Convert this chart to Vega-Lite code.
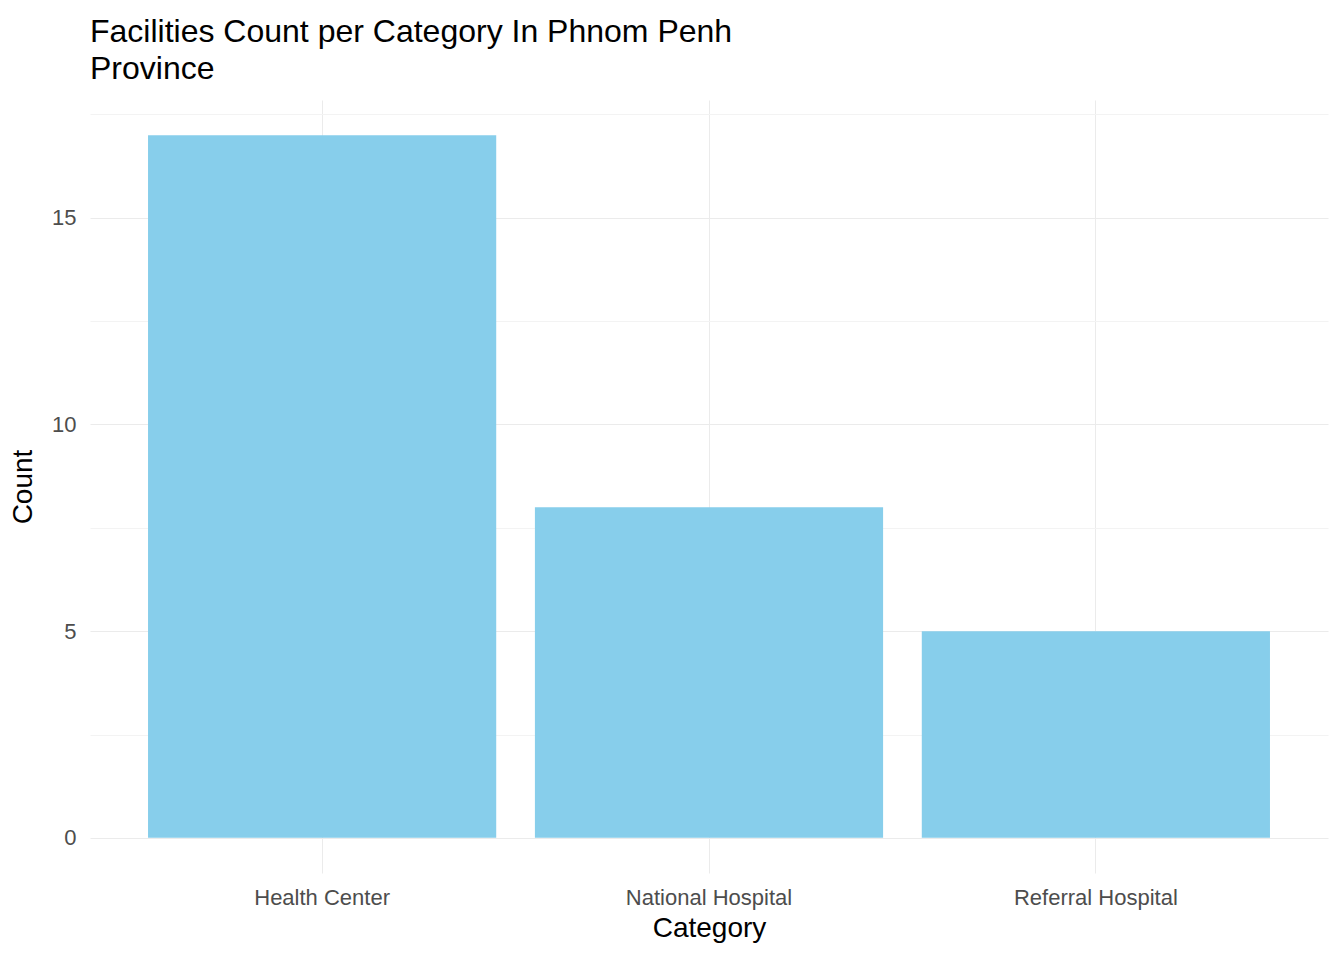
{
  "$schema": "https://vega.github.io/schema/vega-lite/v6.json",
  "width": 1238,
  "height": 773,
  "autosize": "none",
  "padding": {"left": 90, "top": 100, "right": 16, "bottom": 87},
  "background": "white",
  "config": {
    "view": {"stroke": null},
    "font": "Liberation Sans",
    "title": {"font": "Liberation Sans", "fontSize": 32, "fontWeight": "normal", "color": "black", "anchor": "start", "frame": "group", "lineHeight": 37, "offset": 14}
  },
  "title": {"text": ["Facilities Count per Category In Phnom Penh", "Province"]},
  "data": {
    "values": [
      {"Category": "Health Center", "Count": 17},
      {"Category": "National Hospital", "Count": 8},
      {"Category": "Referral Hospital", "Count": 5}
    ]
  },
  "mark": {"type": "bar", "color": "#87CEEB"},
  "encoding": {
    "x": {
      "field": "Category", "type": "nominal", "title": "Category",
      "scale": {"paddingInner": 0.1, "paddingOuter": 0.15},
      "axis": {"domain": false, "ticks": false, "grid": true, "gridColor": "#ebebeb", "bandPosition": 0.5,
        "labelAngle": 0, "labelFontSize": 22, "labelColor": "#4d4d4d", "labelPadding": 14,
        "titleFontSize": 28, "titleFontWeight": "normal", "titleColor": "black", "titlePadding": 6}
    },
    "y": {
      "field": "Count", "type": "quantitative", "title": "Count",
      "scale": {"domain": [-0.85, 17.85], "nice": false, "zero": false},
      "axis": {"domain": false, "ticks": false,
        "values": [0, 2.5, 5, 7.5, 10, 12.5, 15, 17.5],
        "labelExpr": "datum.value % 5 === 0 ? datum.label : ''",
        "gridColor": {"condition": {"test": "datum.value % 5 === 0", "value": "#ebebeb"}, "value": "#f3f3f3"},
        "labelFontSize": 22, "labelColor": "#4d4d4d", "labelPadding": 14,
        "titleFontSize": 28, "titleFontWeight": "normal", "titleColor": "black", "titlePadding": 14}
    },
    "y2": {"datum": 0}
  }
}
